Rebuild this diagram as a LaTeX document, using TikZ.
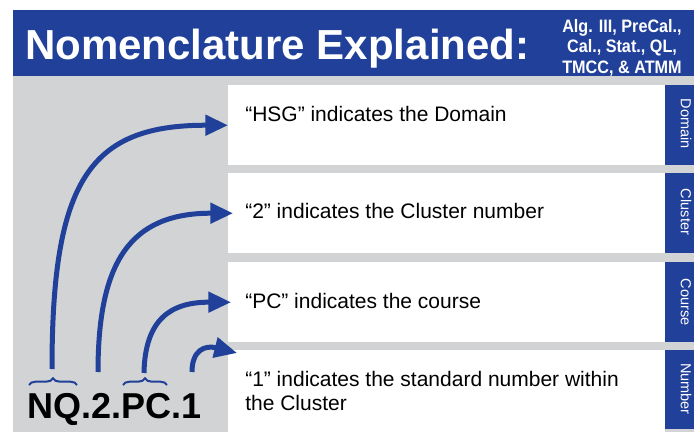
\documentclass[tikz,border=0pt]{standalone}
\usepackage{fontspec}
\setmainfont{Liberation Sans}
\newfontfamily\narrowfont[FakeStretch=0.9]{Liberation Sans}
\usetikzlibrary{arrows.meta,decorations.pathreplacing}
\definecolor{navy}{HTML}{21409A}
\definecolor{panelgray}{HTML}{D1D3D4}
\begin{document}
\begin{tikzpicture}[x=0.75pt,y=-0.75pt,
  box/.style={fill=white, minimum width=327.75pt, minimum height=60pt, inner sep=0pt, anchor=north west},
  tabbox/.style={fill=navy, minimum width=21.75pt, minimum height=60pt, inner sep=0pt, anchor=north west},
  tablabel/.style={text=white, rotate=-90, font=\fontsize{10.9}{12}\selectfont, inner sep=0pt},
  desc/.style={anchor=base west, inner sep=0pt, font=\fontsize{15.75}{18}\selectfont, align=left},
  courseline/.style={anchor=base, inner sep=0pt, text=white, font=\narrowfont\bfseries\fontsize{13.5}{15.4}\selectfont},
  pointer/.style={draw=navy, line width=3.75pt, -{Triangle[length=17pt,width=15pt]}},
  bracestyle/.style={draw=navy, line width=1.5pt, decorate, decoration={brace, amplitude=5pt}}]
\useasboundingbox (0,0) rectangle (694,432);
% backgrounds
\fill[navy] (13,10) rectangle (694,76);
\fill[panelgray] (13,76) rectangle (694,432);
% header texts
\node[anchor=base west, inner sep=0pt, text=white, font=\fontsize{31.5}{36}\selectfont\bfseries] (title) at (25,60) {Nomenclature Explained:};
\node[courseline] (c1) at (622,32) {Alg. III, PreCal.,};
\node[courseline] (c2) at (622,52.5) {Cal., Stat., QL,};
\node[courseline] (c3) at (622,73) {TMCC, \& ATMM};
% white boxes
\node[box] (b1) at (228,85) {};
\node[box] (b2) at (228,173) {};
\node[box] (b3) at (228,262) {};
\node[box, minimum height=61.5pt] (b4) at (228,350) {};
% side tabs
\node[tabbox] (t1) at (665,85) {};
\node[tabbox] (t2) at (665,173) {};
\node[tabbox] (t3) at (665,262) {};
\node[tabbox, minimum height=59.25pt] (t4) at (665,350) {};
\node[tablabel] (l1) at (686,124) {Domain};
\node[tablabel] (l2) at (686,212) {Cluster};
\node[tablabel] (l3) at (686,302) {Course};
\node[tablabel] (l4) at (686,389) {Number};
% descriptions
\node[desc] (d1) at (245,121) {“HSG” indicates the Domain};
\node[desc] (d2) at (245,218) {“2” indicates the Cluster number};
\node[desc] (d3) at (245,308) {“PC” indicates the course};
\node[desc] (d4) at (245,410) {“1” indicates the standard number within\\the Cluster};
% code
\node[anchor=base west, inner sep=0pt, font=\fontsize{27}{30}\selectfont\bfseries] (code) at (27,418) {NQ.2.PC.1};
\draw[bracestyle] (29,385) -- (77,385);
\draw[bracestyle] (123,385) -- (167,385);
% arrows
\coordinate (s1) at (52,369);
\coordinate (s2) at (98,372);
\coordinate (s3) at (144,373);
\coordinate (s4) at (192,372);
\coordinate (e4) at (237,353);
\draw[pointer] (s1) .. controls (52,180) and (90,125) .. (b1.west);
\draw[pointer] (s2) .. controls (98,262) and (130,213) .. ([xshift=3.75pt]b2.west);
\draw[pointer] (s3) .. controls (145,320) and (170,302) .. ([xshift=2.25pt]b3.west);
\draw[pointer] (s4) .. controls (192,350) and (205,345) .. (e4);
\end{tikzpicture}
\end{document}
